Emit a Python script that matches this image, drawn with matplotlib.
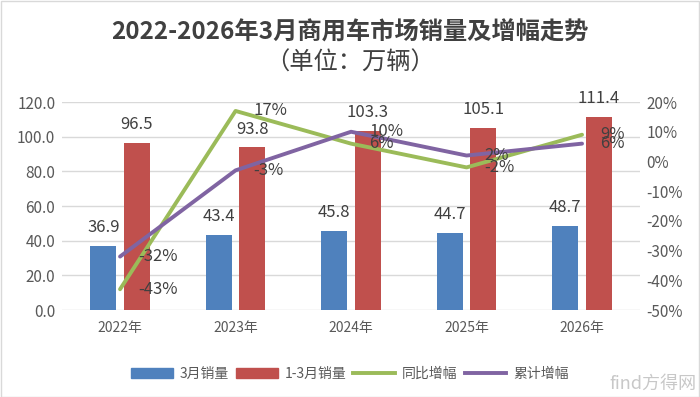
import numpy as np
import matplotlib.pyplot as plt
from matplotlib.patches import Patch
from matplotlib.lines import Line2D

plt.rcParams['font.family'] = ['Noto Sans CJK SC', 'DejaVu Sans']

# ── data ────────────────────────────────────────────────────────────────
YEARS     = ['2022年', '2023年', '2024年', '2025年', '2026年']
MAR_SALES = [36.9, 43.4, 45.8, 44.7, 48.7]       # 3月销量
Q1_SALES  = [96.5, 93.8, 103.3, 105.1, 111.4]    # 1-3月销量
YOY_PCT   = [-43, 17, 6, -2, 9]                  # 同比增幅
CUM_PCT   = [-32, -3, 10, 2, 6]                  # 累计增幅

C_BLUE   = '#4F81BD'
C_RED    = '#C0504D'
C_GREEN  = '#9BBB59'
C_PURPLE = '#8064A2'
C_TEXT   = '#404040'
C_TICK   = '#595959'

fig = plt.figure(figsize=(7.0, 3.97), dpi=100)
ax = fig.add_axes([0.089, 0.219, 0.825, 0.524])
ax2 = ax.twinx()

x = np.arange(len(YEARS))
bw = 0.225
off = 0.145
ax.bar(x - off, MAR_SALES, bw, color=C_BLUE, zorder=2)
ax.bar(x + off, Q1_SALES, bw, color=C_RED, zorder=2)

for xi, v in zip(x - off, MAR_SALES):
    ax.annotate(f'{v:.1f}', (xi, v), xytext=(0, 7), textcoords='offset points',
                ha='center', va='bottom', fontsize=12, color=C_TEXT)
for xi, v in zip(x + off, Q1_SALES):
    ax.annotate(f'{v:.1f}', (xi, v), xytext=(0, 7), textcoords='offset points',
                ha='center', va='bottom', fontsize=12, color=C_TEXT)

ax.set_ylim(0, 120)
ax.set_yticks(np.arange(0, 121, 20))
ax.set_yticklabels([f'{t:.1f}' for t in np.arange(0, 121, 20)])
ax.set_xlim(-0.5, len(YEARS) - 0.5)
ax.set_xticks(x)
ax.set_xticklabels(YEARS)
ax.grid(axis='y', color='#D9D9D9', lw=1, zorder=0)
ax.set_axisbelow(True)
ax.tick_params(length=0, labelsize=11, colors=C_TICK, pad=5)
ax.tick_params(axis='x', labelsize=10, pad=8)

ax2.plot(x, YOY_PCT, color=C_GREEN, lw=2.8, zorder=3, solid_capstyle='round')
ax2.plot(x, CUM_PCT, color=C_PURPLE, lw=2.8, zorder=3, solid_capstyle='round')
for xi, v in zip(x, YOY_PCT):
    ax2.annotate(f'{v}%', (xi, v), xytext=(13, 0), textcoords='offset points',
                 ha='left', va='center', fontsize=12, color=C_TEXT, zorder=4)
for xi, v in zip(x, CUM_PCT):
    ax2.annotate(f'{v}%', (xi, v), xytext=(13, 0), textcoords='offset points',
                 ha='left', va='center', fontsize=12, color=C_TEXT, zorder=4)
ax2.set_ylim(-50, 20)
ax2.set_yticks(np.arange(-50, 21, 10))
ax2.set_yticklabels([f'{t}%' for t in np.arange(-50, 21, 10)])
ax2.tick_params(length=0, labelsize=11, colors=C_TICK, pad=5)

for a in (ax, ax2):
    for s in a.spines.values():
        s.set_visible(False)

fig.text(0.5, 0.918, '2022-2026年3月商用车市场销量及增幅走势', ha='center', va='center',
         fontsize=17.5, fontweight='bold', color=C_TEXT)
fig.text(0.5, 0.843, '（单位：万辆）', ha='center', va='center',
         fontsize=17.5, color=C_TEXT)

handles = [Patch(color=C_BLUE), Patch(color=C_RED),
           Line2D([], [], color=C_GREEN, lw=2.8),
           Line2D([], [], color=C_PURPLE, lw=2.8)]
labels = ['3月销量', '1-3月销量', '同比增幅', '累计增幅']
leg = fig.legend(handles, labels, loc='center', bbox_to_anchor=(0.5, 0.058), ncol=4,
                 frameon=False, fontsize=10, handlelength=3.0, handleheight=0.7,
                 columnspacing=0.5, handletextpad=0.5)
for t in leg.get_texts():
    t.set_color(C_TICK)

fig.text(0.995, 0.01, 'find方得网', ha='right', va='bottom', fontsize=13,
         color='#C8C8C8')

fig.patches.append(plt.Rectangle((0.001, 0.001), 0.998, 0.997, transform=fig.transFigure,
                                 fill=False, edgecolor='#D9D9D9', lw=1))

fig.savefig('out.png', dpi=100)
